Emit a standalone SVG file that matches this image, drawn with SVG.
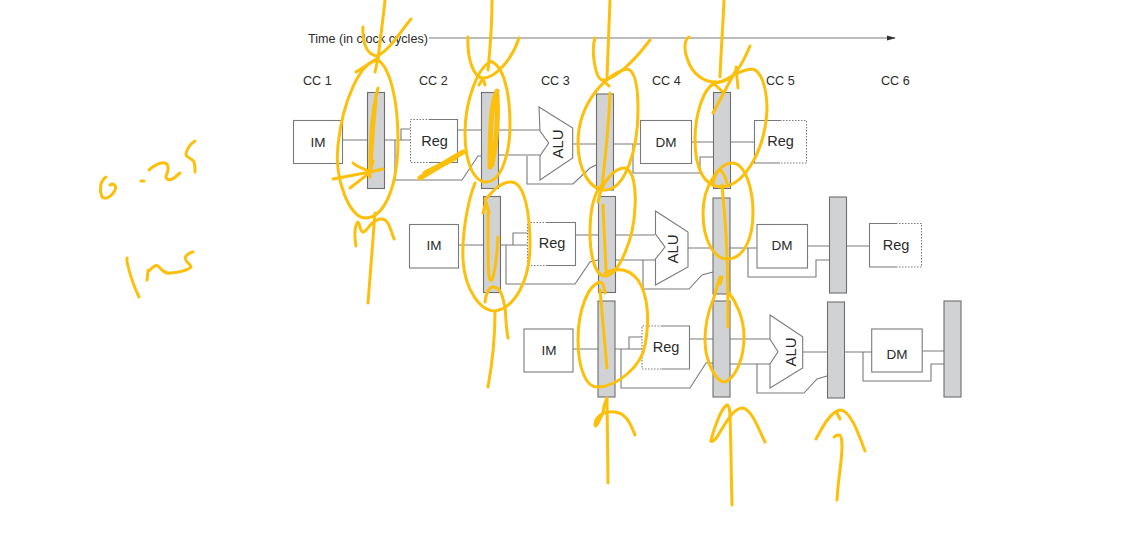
<svg xmlns="http://www.w3.org/2000/svg" width="1140" height="541" viewBox="0 0 1140 541">
<style>
text{font-family:"Liberation Sans",Arial,sans-serif;fill:#2b2b2b;font-size:12.6px}
.l{font-size:13.5px}
.r{font-size:14.5px}
.a{font-size:15px}
.b{fill:#fff;stroke:#7a7a7a;stroke-width:1.1}
.n{fill:none;stroke:#7a7a7a;stroke-width:1.1}
.d{fill:none;stroke:#7a7a7a;stroke-width:1.1;stroke-dasharray:1.5 1.5}
.p{fill:#d0d2d3;stroke:#6e6e6e;stroke-width:1.1}
.c{fill:none;stroke:#7a7a7a;stroke-width:1.1}
.y{fill:none;stroke:#fcc00c;stroke-width:3;stroke-linecap:round;stroke-linejoin:round}
.h{stroke-width:5}
</style>
<defs>
<marker id="ah" markerWidth="9" markerHeight="6" refX="8" refY="3" orient="auto" markerUnits="userSpaceOnUse"><path d="M0 0.5L9 3L0 5.5z" fill="#333"/></marker>
<rect id="bar" class="p" width="17" height="96"/>
</defs>
<rect width="1140" height="541" fill="#fff"/>

<g id="connectors">
<path class="c" d="M429 38H895" marker-end="url(#ah)"/>
<path class="c" d="M342 140H367M384 140H410M401 140V129H410M395 140V180H462L478 156H481M457 130H481M498 130H540M498 155H540M572 144H596M527 156V184H573L590 168L596 165M613 144H640M633 144V173H700V157H713M691 142H713M730 142H754"/>
<path class="c" d="M458 245H483M500 245H527M513 245V233H527M506 245V284H575L590 262L598 260M575 235H598M615 235H655M615 260H655M643 260V289H689L702 275L713 272M688 248H713M730 248H757M748 248V277H816V260H829M807 246H829M846 246H870"/>
<path class="c" d="M573 349H598M615 349H642M629 349V337H642M621 349V388H690L706 363H713M689 339H713M730 339H770M730 364H770M757 364V393H804L817 379L827 376M803 352H827M845 352H872M863 352V381H931V364H944M922 351H944"/>
</g>

<g id="time-label"><text x="308" y="43">Time (in clock cycles)</text></g>
<g id="cc1"><text x="303" y="85">CC 1</text></g>
<g id="cc2"><text x="419" y="85">CC 2</text></g>
<g id="cc3"><text x="541" y="85">CC 3</text></g>
<g id="cc4"><text x="652" y="85">CC 4</text></g>
<g id="cc5"><text x="766" y="85">CC 5</text></g>
<g id="cc6"><text x="881" y="85">CC 6</text></g>

<g id="r1-im"><rect class="b" x="293.500" y="120.500" width="49" height="43"/><text class="l" x="318" y="147" text-anchor="middle">IM</text></g>
<g id="r1-p1"><use href="#bar" x="367.500" y="92.500"/></g>
<g id="r1-reg"><path class="d" d="M430 119.500H410.500V162.500H430"/><path class="n" d="M430 119.500H457.500V162.500H430"/><text class="r" x="434.500" y="146" text-anchor="middle">Reg</text></g>
<g id="r1-p2"><use href="#bar" x="481.500" y="92.500"/></g>
<g id="r1-alu"><path class="b" d="M539 107L572.700 128V158L540 180V156L548.700 143L540 131z"/><text class="a" transform="translate(563 144) rotate(-90)" text-anchor="middle">ALU</text></g>
<g id="r1-p3"><use href="#bar" x="596.500" y="94"/></g>
<g id="r1-dm"><rect class="b" x="640.500" y="120.500" width="51" height="43"/><text class="l" x="666" y="147" text-anchor="middle">DM</text></g>
<g id="r1-p4"><use href="#bar" x="713.500" y="92.500"/></g>
<g id="r1-reg5"><path class="n" d="M780 120.500H754.500V163H780"/><path class="d" d="M780 120.500H806.500V163H780"/><text class="r" x="780.500" y="146" text-anchor="middle">Reg</text></g>

<g id="r2-im"><rect class="b" x="409.500" y="224.500" width="49" height="43.500"/><text class="l" x="434" y="250" text-anchor="middle">IM</text></g>
<g id="r2-p1"><use href="#bar" x="483.500" y="196.500"/></g>
<g id="r2-reg"><path class="d" d="M547 222.500H527.500V265.500H547"/><path class="n" d="M547 222.500H575.500V265.500H547"/><text class="r" x="552" y="248" text-anchor="middle">Reg</text></g>
<g id="r2-p2"><use href="#bar" x="598.500" y="196.500"/></g>
<g id="r2-alu"><path class="b" d="M655.500 211L688 232V267L655.500 285V259L665 247L655.500 234z"/><text class="a" transform="translate(678 249) rotate(-90)" text-anchor="middle">ALU</text></g>
<g id="r2-p3"><use href="#bar" x="713" y="198"/></g>
<g id="r2-dm"><rect class="b" x="757" y="224.500" width="50.500" height="43.500"/><text class="l" x="782" y="250" text-anchor="middle">DM</text></g>
<g id="r2-p4"><use href="#bar" x="829.500" y="197"/></g>
<g id="r2-reg5"><path class="n" d="M896 223.500H869.500V267H896"/><path class="d" d="M896 223.500H921.500V267H896"/><text class="r" x="896" y="250" text-anchor="middle">Reg</text></g>

<g id="r3-im"><rect class="b" x="524" y="329" width="49" height="43"/><text class="l" x="549" y="355" text-anchor="middle">IM</text></g>
<g id="r3-p1"><use href="#bar" x="598" y="301"/></g>
<g id="r3-reg"><path class="d" d="M662 326H642V369H662"/><path class="n" d="M662 326H689.500V369H662"/><text class="r" x="666" y="352" text-anchor="middle">Reg</text></g>
<g id="r3-p2"><use href="#bar" x="713" y="301"/></g>
<g id="r3-alu"><path class="b" d="M770 315L802.700 336.700V368L770 388V364L778 351.700L770 339z"/><text class="a" transform="translate(796 352) rotate(-90)" text-anchor="middle">ALU</text></g>
<g id="r3-p3"><use href="#bar" x="827.500" y="302"/></g>
<g id="r3-dm"><rect class="b" x="871.700" y="329" width="50.500" height="43"/><text class="l" x="897" y="359" text-anchor="middle">DM</text></g>
<g id="r3-p4"><use href="#bar" x="944" y="301"/></g>

<g id="handwriting">
<path class="y" d="M378 60C360 62 343 100 338 145C334 180 350 218 365 218C385 218 398 185 398 140C398 100 390 68 378 60"/>
<path class="y" d="M385 0C383 20 380 40 378 60M411 19C400 32 390 50 377 56C368 55 362 45 363 27M356 72L378 58L375 72M375 213L368 303M356 246C354 235 355 224 358 222C360 224 360 232 363 232C367 232 370 222 377 220C388 215 390 228 394 239"/>
<path class="y" d="M378 88C372 110 370 130 370 177M376 100C373 130 372 150 371 167M333 179L370 172M353 163C358 168 364 168 370 172C364 178 357 182 350 188M373 161L370 172L383 169"/>

<path class="y" d="M490 62C478 68 465 100 465 133C465 165 475 183 487 182C503 180 510 150 510 125C510 90 503 65 490 61"/>
<path class="y" d="M492 0C492 25 490 50 488 70M468 37C467 60 474 78 483 78C495 78 512 60 519 38M479 85L483 78L485 85"/>
<path class="y h" d="M497 91C491 105 490 130 490 167M497 95C499 125 495 150 492 165"/>
<path class="y h" d="M420 178L445 163L425 173L455 158L436 168L463 152"/>

<path class="y" d="M485 200C492 192 500 182 511 182C525 182 530 215 530 245C530 280 515 308 495 311C480 311 465 290 463 260C462 240 466 205 475 183"/>
<path class="y" d="M483 213L486 202L489 213M498 237C497 255 495 272 492 280C488 282 488 272 488 213M485 302C486 292 490 286 494 287C502 288 503 300 505 307C506 318 506 328 508 338M495 312C495 340 492 365 488 387"/>

<path class="y" d="M627 69C610 72 578 100 578 143C578 170 590 190 605 190C625 190 638 150 638 110C638 85 635 70 627 69"/>
<path class="y" d="M610 0C609 25 608 50 607 77M595 38C591 50 595 80 603 80C615 80 635 60 650 40M603 80L609 86M610 93C609 125 605 160 602 187"/>
<path class="y" d="M598 202C602 180 615 168 625 168C634 170 636 190 635 207C634 240 618 276 605 276C595 276 590 255 590 233C590 205 595 190 604 183"/>
<path class="y" d="M603 205L606 270"/>
<path class="y" d="M605 293C604 285 602 282 600 282C588 285 578 310 578 340C578 368 586 387 597 387C618 387 642 365 645 345C650 320 648 295 638 280C630 270 620 266 605 273"/>
<path class="y" d="M600 290L607 368M608 483L607 398M635 435C630 422 625 413 615 412C605 411 596 415 595 424C595 430 600 420 603 412C604 405 605 402 607 398"/>

<path class="y" d="M752 69C735 70 728 82 715 83C703 88 695 115 695 140C695 170 705 187 722 187C745 185 765 150 767 110C767 85 760 70 752 69"/>
<path class="y" d="M724 0C723 25 721 50 720 77M689 37C684 40 684 50 687 58C692 75 705 83 718 82C733 82 742 65 750 46M713 113L737 68M738 88L736 67M713 83L723 92"/>
<path class="y" d="M732 163C720 163 703 185 703 213C703 240 714 259 727 259C743 259 753 240 753 213C753 188 745 163 732 163"/>
<path class="y" d="M713 183C716 172 718 170 720 170C724 172 726 180 727 183M722 185C725 220 728 240 728 327"/>
<path class="y" d="M720 277C717 285 716 292 713 300C708 312 705 325 705 340C705 360 715 382 725 382C735 378 744 360 744 337C744 318 736 302 729 293"/>
<path class="y" d="M722 277L720 284M732 505C731 470 731 440 730 417C730 412 729 405 727 405C722 407 715 425 711 440C710 443 714 441 717 437C725 425 732 408 743 408C752 410 758 428 765 442"/>
<path class="y" d="M816 439C822 428 830 412 840 410C850 410 858 432 865 451M837 500C838 480 842 460 842 447C842 440 841 435 839 435C837 435 835 436 834 437M837 413L840 419"/>

<path class="y" d="M106 177C100 181 99 190 102 197C105 200 112 197 115 190C117 185 113 183 110 185"/>
<path class="y" d="M141 181L144 181M149 170C153 166 160 162 165 163C170 165 168 172 166 176C166 180 170 181 174 178L180 173M195 141C190 144 186 150 186 155C187 158 192 158 194 162C195 165 195 169 195 172"/>
<path class="y" d="M127 258L127 262C130 275 134 287 139 297M147 280C148 272 148 268 149 271C152 268 155 264 158 266C162 270 165 274 170 273C178 273 188 270 191 267C190 262 183 262 186 256C188 254 191 252 193 252"/>
</g>
</svg>
